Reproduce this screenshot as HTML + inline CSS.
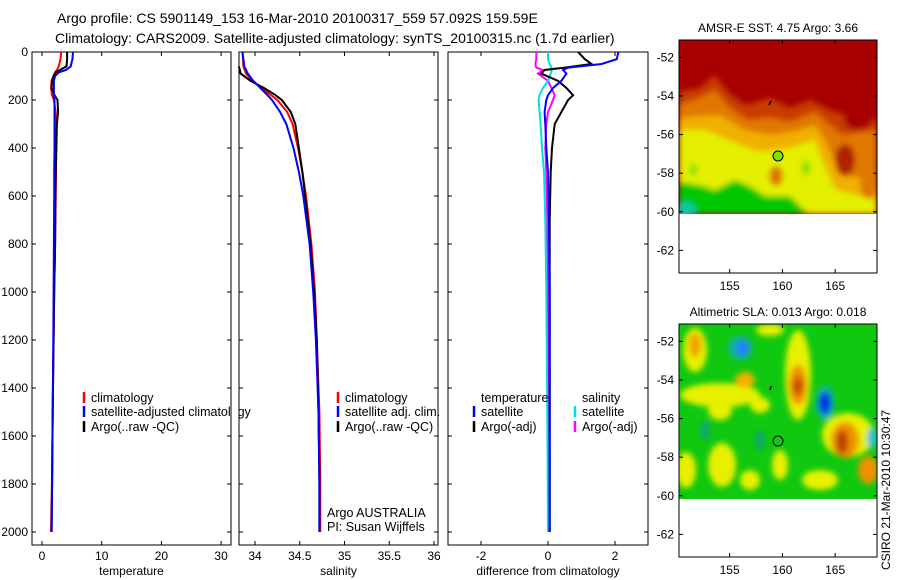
<!DOCTYPE html>
<html><head><meta charset="utf-8"><style>
body{margin:0;background:#fff}
svg{display:block;font-family:"Liberation Sans",sans-serif}
</style></head><body>
<svg id="fig" width="900" height="580" viewBox="0 0 900 580">
<defs>
<filter id="bl" x="-20%" y="-20%" width="140%" height="140%"><feGaussianBlur stdDeviation="3"/></filter>
<clipPath id="c1"><rect x="679" y="40" width="198" height="174"/></clipPath>
<clipPath id="c2"><rect x="679" y="324" width="198" height="175"/></clipPath>
</defs>
<text x="57" y="23" font-size="14">Argo profile: CS 5901149_153 16-Mar-2010 20100317_559 57.092S 159.59E</text>
<text x="55" y="43" font-size="14">Climatology: CARS2009. Satellite-adjusted climatology: synTS_20100315.nc (1.7d earlier)</text>

<g>
<g clip-path="url(#c1)">
<rect x="679" y="40" width="198" height="174" fill="#a80000"/>
<g filter="url(#bl)">
<polygon fill="#c83c00" points="679,92 700,88 715,75 728,92 745,105 770,98 790,108 810,100 830,110 845,115 877,120 877,214 679,214"/>
<polygon fill="#e07800" points="679,105 700,98 715,90 730,108 748,120 770,118 790,122 815,112 830,125 842,135 877,130 877,214 679,214"/>
<polygon fill="#f0b000" points="679,118 720,115 745,130 770,135 792,132 815,125 825,140 840,175 877,180 877,214 679,214"/>
<polygon fill="#e4f000" points="679,130 705,130 740,145 760,152 790,148 815,140 822,160 835,190 877,200 877,214 679,214"/>
<ellipse cx="776" cy="176" rx="7" ry="10" fill="#e07800"/>
<ellipse cx="845" cy="160" rx="10" ry="16" fill="#b02000"/>
<ellipse cx="858" cy="120" rx="14" ry="10" fill="#a80000"/>
<ellipse cx="868" cy="185" rx="8" ry="14" fill="#e07800"/>
<polygon fill="#00c800" points="679,182 700,185 715,190 735,180 750,186 765,196 790,196 808,214 679,214"/>
<ellipse cx="686" cy="210" rx="10" ry="8" fill="#10c8a0"/>
<ellipse cx="693" cy="170" rx="4" ry="6" fill="#80e000"/>
<ellipse cx="806" cy="168" rx="4" ry="8" fill="#80e000"/>
</g>
</g>
<rect x="679" y="40" width="198" height="233" fill="none" stroke="#000"/>
<circle cx="778" cy="156" r="5" fill="#80e000" stroke="#000"/>
<path d="M771 101 l-2 4" stroke="#000" stroke-width="1.5"/>
<text x="778" y="32" font-size="12" text-anchor="middle">AMSR-E SST: 4.75 Argo: 3.66</text>
<g id="sstax" font-size="12" text-anchor="end"></g>
</g>

<g>
<g clip-path="url(#c2)">
<rect x="679" y="324" width="198" height="175" fill="#10c810"/>
<g filter="url(#bl)">
<ellipse cx="695" cy="350" rx="12" ry="22" fill="#e8f000"/>
<ellipse cx="695" cy="345" rx="6" ry="12" fill="#f0a000"/>
<ellipse cx="720" cy="395" rx="40" ry="12" fill="#e8f000"/>
<ellipse cx="745" cy="380" rx="10" ry="8" fill="#f0b000"/>
<ellipse cx="720" cy="410" rx="12" ry="10" fill="#e8f000"/>
<ellipse cx="770" cy="330" rx="14" ry="6" fill="#e8f000"/>
<ellipse cx="760" cy="405" rx="10" ry="8" fill="#e8f000"/>
<ellipse cx="798" cy="375" rx="13" ry="45" fill="#e8f000"/>
<ellipse cx="798" cy="385" rx="9" ry="20" fill="#f09000"/>
<ellipse cx="798" cy="386" rx="5" ry="9" fill="#c05000"/>
<ellipse cx="740" cy="348" rx="12" ry="12" fill="#10b0a0"/>
<ellipse cx="743" cy="348" rx="6" ry="8" fill="#2080ff"/>
<ellipse cx="825" cy="403" rx="9" ry="17" fill="#10b0c0"/>
<ellipse cx="825" cy="403" rx="6" ry="11" fill="#0030e0"/>
<ellipse cx="848" cy="435" rx="26" ry="22" fill="#e8f000"/>
<ellipse cx="845" cy="440" rx="14" ry="18" fill="#f09000"/>
<ellipse cx="842" cy="442" rx="6" ry="12" fill="#c04000"/>
<ellipse cx="872" cy="438" rx="5" ry="10" fill="#20c0e0"/>
<ellipse cx="868" cy="470" rx="10" ry="14" fill="#f09000"/>
<ellipse cx="686" cy="470" rx="10" ry="18" fill="#e8f000"/>
<ellipse cx="722" cy="465" rx="14" ry="22" fill="#e8f000"/>
<ellipse cx="750" cy="480" rx="10" ry="10" fill="#e8f000"/>
<ellipse cx="780" cy="465" rx="8" ry="15" fill="#e8f000"/>
<ellipse cx="820" cy="480" rx="18" ry="10" fill="#e8f000"/>
<ellipse cx="760" cy="440" rx="4" ry="10" fill="#10a080"/>
<ellipse cx="705" cy="430" rx="4" ry="10" fill="#10a080"/>
</g>
</g>
<rect x="679" y="324" width="198" height="233" fill="none" stroke="#000"/>
<circle cx="778" cy="441" r="5" fill="none" stroke="#000"/>
<path d="M771 386 l-1 4" stroke="#000" stroke-width="1.5"/>
<text x="778" y="316" font-size="12" text-anchor="middle">Altimetric SLA: 0.013 Argo: 0.018</text>
<g id="slaax" font-size="12" text-anchor="end"></g>
</g>
<text transform="translate(890,570) rotate(-90)" font-size="12">CSIRO 21-Mar-2010 10:30:47</text>

<g id="p1"></g>
<g id="p2"></g>
<g id="p3"></g>
</svg>
<script>
// ---- data ----
const tempDepth = [0,30,60,75,85,100,120,150,180,200,250,300,400,500,600,800,1000,1200,1500,1800,2000];
const tempClim  = [3.2,3.1,2.8,2.5,2.2,1.9,1.6,1.5,1.7,2.0,2.3,2.4,2.4,2.35,2.3,2.2,2.05,1.95,1.8,1.65,1.5];
const tempSat   = [5.2,5.1,4.8,4.0,2.8,2.2,2.0,2.0,2.0,2.1,2.1,2.1,2.1,2.05,2.05,2.0,1.95,1.9,1.8,1.7,1.6];
const tempArgo  = [4.2,4.2,4.1,3.0,2.3,2.0,1.7,1.6,2.1,2.6,2.7,2.5,2.4,2.3,2.25,2.2,2.05,1.95,1.8,1.7,1.6];
const salDepth  = [0,60,90,120,150,180,200,250,300,400,500,600,800,1000,1200,1500,1800,2000];
const salClim   = [33.86,33.87,33.9,33.97,34.07,34.18,34.25,34.36,34.42,34.48,34.53,34.57,34.63,34.67,34.69,34.72,34.73,34.73];
const salSat    = [33.86,33.88,33.92,33.98,34.06,34.14,34.19,34.28,34.35,34.43,34.49,34.54,34.61,34.65,34.68,34.71,34.72,34.72];
const salArgo   = [null,33.82,33.84,33.95,34.1,34.23,34.3,34.4,34.45,34.49,34.53,34.56,34.62,34.66,34.69,34.71,34.72,34.72];
const difDepth  = [0,30,50,65,75,90,120,150,180,200,250,300,400,500,700,1000,1500,2000];
const difTSat   = [2.1,2.05,1.6,0.6,0.45,0.55,0.4,0.15,0.0,-0.05,-0.1,-0.08,-0.05,0.0,0.03,0.05,0.05,0.05];
const difTArgo  = [0.9,1.1,1.3,0.5,-0.1,-0.2,0.3,0.55,0.75,0.6,0.4,0.2,0.12,0.08,0.05,0.05,0.05,0.05];
const difSSat   = [0.0,0.0,0.05,0.1,0.12,0.08,0.0,-0.15,-0.25,-0.28,-0.25,-0.22,-0.18,-0.12,-0.08,-0.05,-0.02,0.0];
const difSArgo  = [-0.35,-0.35,-0.38,-0.35,-0.15,-0.3,0.0,0.1,0.2,0.15,0.0,-0.05,-0.08,-0.05,-0.02,0.0,0.0,0.0];
const p1Ticks = [0,10,20,30];
const p2Ticks = [34,34.5,35,35.5,36];
const p2Labels = ["34","34.5","35","35.5","36"];
const p3Ticks = [-2,0,2];
const depthTicks = [0,200,400,600,800,1000,1200,1400,1600,1800,2000];
const latTicks = [-52,-54,-56,-58,-60,-62];
const lonTicks = [155,160,165];

const NS='http://www.w3.org/2000/svg';
function mk(tag,attrs,parent){const e=document.createElementNS(NS,tag);for(const k in attrs)e.setAttribute(k,attrs[k]);parent.appendChild(e);return e;}
const yD = d => 52 + d*0.24;
const Y0=52, Y1=545;

function panel(g,x0,x1,xs,ticks,labels,axisLabel,showDepth){
  mk('rect',{x:x0,y:Y0,width:x1-x0,height:Y1-Y0,fill:'none',stroke:'#000'},g);
  ticks.forEach((t,i)=>{
    const x=xs(t);
    mk('line',{x1:x,x2:x,y1:Y1,y2:Y1-4,stroke:'#000'},g);
    mk('line',{x1:x,x2:x,y1:Y0,y2:Y0+4,stroke:'#000'},g);
    const tx=mk('text',{x:x,y:Y1+15,'font-size':12,'text-anchor':'middle'},g);
    
    
    tx.textContent=labels[i];
  });
  depthTicks.forEach(d=>{
    mk('line',{x1:x0,x2:x0+4,y1:yD(d),y2:yD(d),stroke:'#000'},g);
    mk('line',{x1:x1,x2:x1-4,y1:yD(d),y2:yD(d),stroke:'#000'},g);
    if(showDepth){
      const tx=mk('text',{x:x0-4,y:yD(d)+4,'font-size':12,'text-anchor':'end'},g);
      
      
      tx.textContent=d;
    }
  });
  const al=mk('text',{x:(x0+x1)/2,y:575,'font-size':12,'text-anchor':'middle'},g);
  
  
  al.textContent=axisLabel;
}
function line(g,xs,depths,vals,color,name,w){
  let d='';let pen=false;
  depths.forEach((dep,i)=>{const v=vals[i];if(v==null){pen=false;return;}d+=(pen?'L':'M')+xs(v).toFixed(1)+' '+yD(dep).toFixed(1);pen=true;});
  const p=mk('path',{d:d,fill:'none',stroke:color,'stroke-width':w||2},g);
  
  
}
function legend(g,x,y,color,text,name){
  mk('line',{x1:x,x2:x,y1:y-10,y2:y+1,stroke:color,'stroke-width':2.5},g);
  const t=mk('text',{x:x+7,y:y,'font-size':12.5},g);
  
  
  t.textContent=text;
}

const g1=document.getElementById('p1');
const xs1=v=>42+v*5.97;
panel(g1,32,231,xs1,p1Ticks,p1Ticks.map(String),'temperature',true);
line(g1,xs1,tempDepth,tempClim,'#ff0000','temp-climatology-line');
line(g1,xs1,tempDepth,tempArgo,'#000000','temp-argo-line');
line(g1,xs1,tempDepth,tempSat,'#0000ff','temp-satellite-line');
legend(g1,84,402,'#ff0000','climatology','legend-climatology');
legend(g1,84,416,'#0000ff','satellite-adjusted climatology','legend-satellite');
legend(g1,84,431,'#000000','Argo(..raw -QC)','legend-argo');
mk('rect',{x:231.5,y:380,width:8,height:60,fill:'#fff'},g1);

const g2=document.getElementById('p2');
const xs2=v=>255+(v-34)*89.5;
panel(g2,239,438,xs2,p2Ticks,p2Labels,'salinity',false);
line(g2,xs2,salDepth,salClim,'#ff0000','sal-climatology-line');
line(g2,xs2,salDepth,salArgo,'#000000','sal-argo-line');
line(g2,xs2,salDepth,salSat,'#0000ff','sal-satellite-line');
legend(g2,338,402,'#ff0000','climatology','legend-sal-climatology');
legend(g2,338,416,'#0000ff','satellite adj. clim.','legend-sal-satellite');
legend(g2,338,431,'#000000','Argo(..raw -QC)','legend-sal-argo');
const a1=mk('text',{x:327,y:517,'font-size':12.5},g2);


a1.textContent='Argo AUSTRALIA';
const a2=mk('text',{x:327,y:531,'font-size':12.5},g2);


a2.textContent='PI: Susan Wijffels';

const g3=document.getElementById('p3');
const xs3=v=>548+v*33.5;
panel(g3,448,648,xs3,p3Ticks,p3Ticks.map(String),'difference from climatology',false);
line(g3,xs3,difDepth,difSArgo,'#ff00ff','diff-sal-argo-line');
line(g3,xs3,difDepth,difSSat,'#00e0e0','diff-sal-satellite-line');
line(g3,xs3,difDepth,difTArgo,'#000000','diff-temp-argo-line');
line(g3,xs3,difDepth,difTSat,'#0000ff','diff-temp-satellite-line');
const lh1=mk('text',{x:481,y:402,'font-size':12.5},g3);


lh1.textContent='temperature';
const lh2=mk('text',{x:582,y:402,'font-size':12.5},g3);


lh2.textContent='salinity';
legend(g3,474,416,'#0000ff','satellite','legend-temp-satellite');
legend(g3,474,431,'#000000','Argo(-adj)','legend-temp-argo');
legend(g3,575,416,'#00e0e0','satellite','legend-sal-satellite-diff');
legend(g3,575,431,'#ff00ff','Argo(-adj)','legend-sal-argo-diff');

function mapAxes(id,top){
  const g=document.getElementById(id);
  const ly=lat=>top+(-51.1-lat)*19.3;
  const lx=lon=>679+(lon-150.2)*10.55;
  latTicks.forEach(l=>{
    const y=ly(l);
    mk('line',{x1:679,x2:683,y1:y,y2:y,stroke:'#000'},g);
    mk('line',{x1:877,x2:873,y1:y,y2:y,stroke:'#000'},g);
    const t=mk('text',{x:674,y:y+4},g);
    
    
    t.textContent=l;
  });
  lonTicks.forEach(l=>{
    const x=lx(l);
    mk('line',{x1:x,x2:x,y1:top,y2:top+4,stroke:'#000'},g);
    mk('line',{x1:x,x2:x,y1:top+233,y2:top+229,stroke:'#000'},g);
    const t=mk('text',{x:x,y:top+250,'text-anchor':'middle'},g);
    
    
    t.textContent=l;
  });
}
mapAxes('sstax',40);
mapAxes('slaax',324);
</script>
</body></html>
